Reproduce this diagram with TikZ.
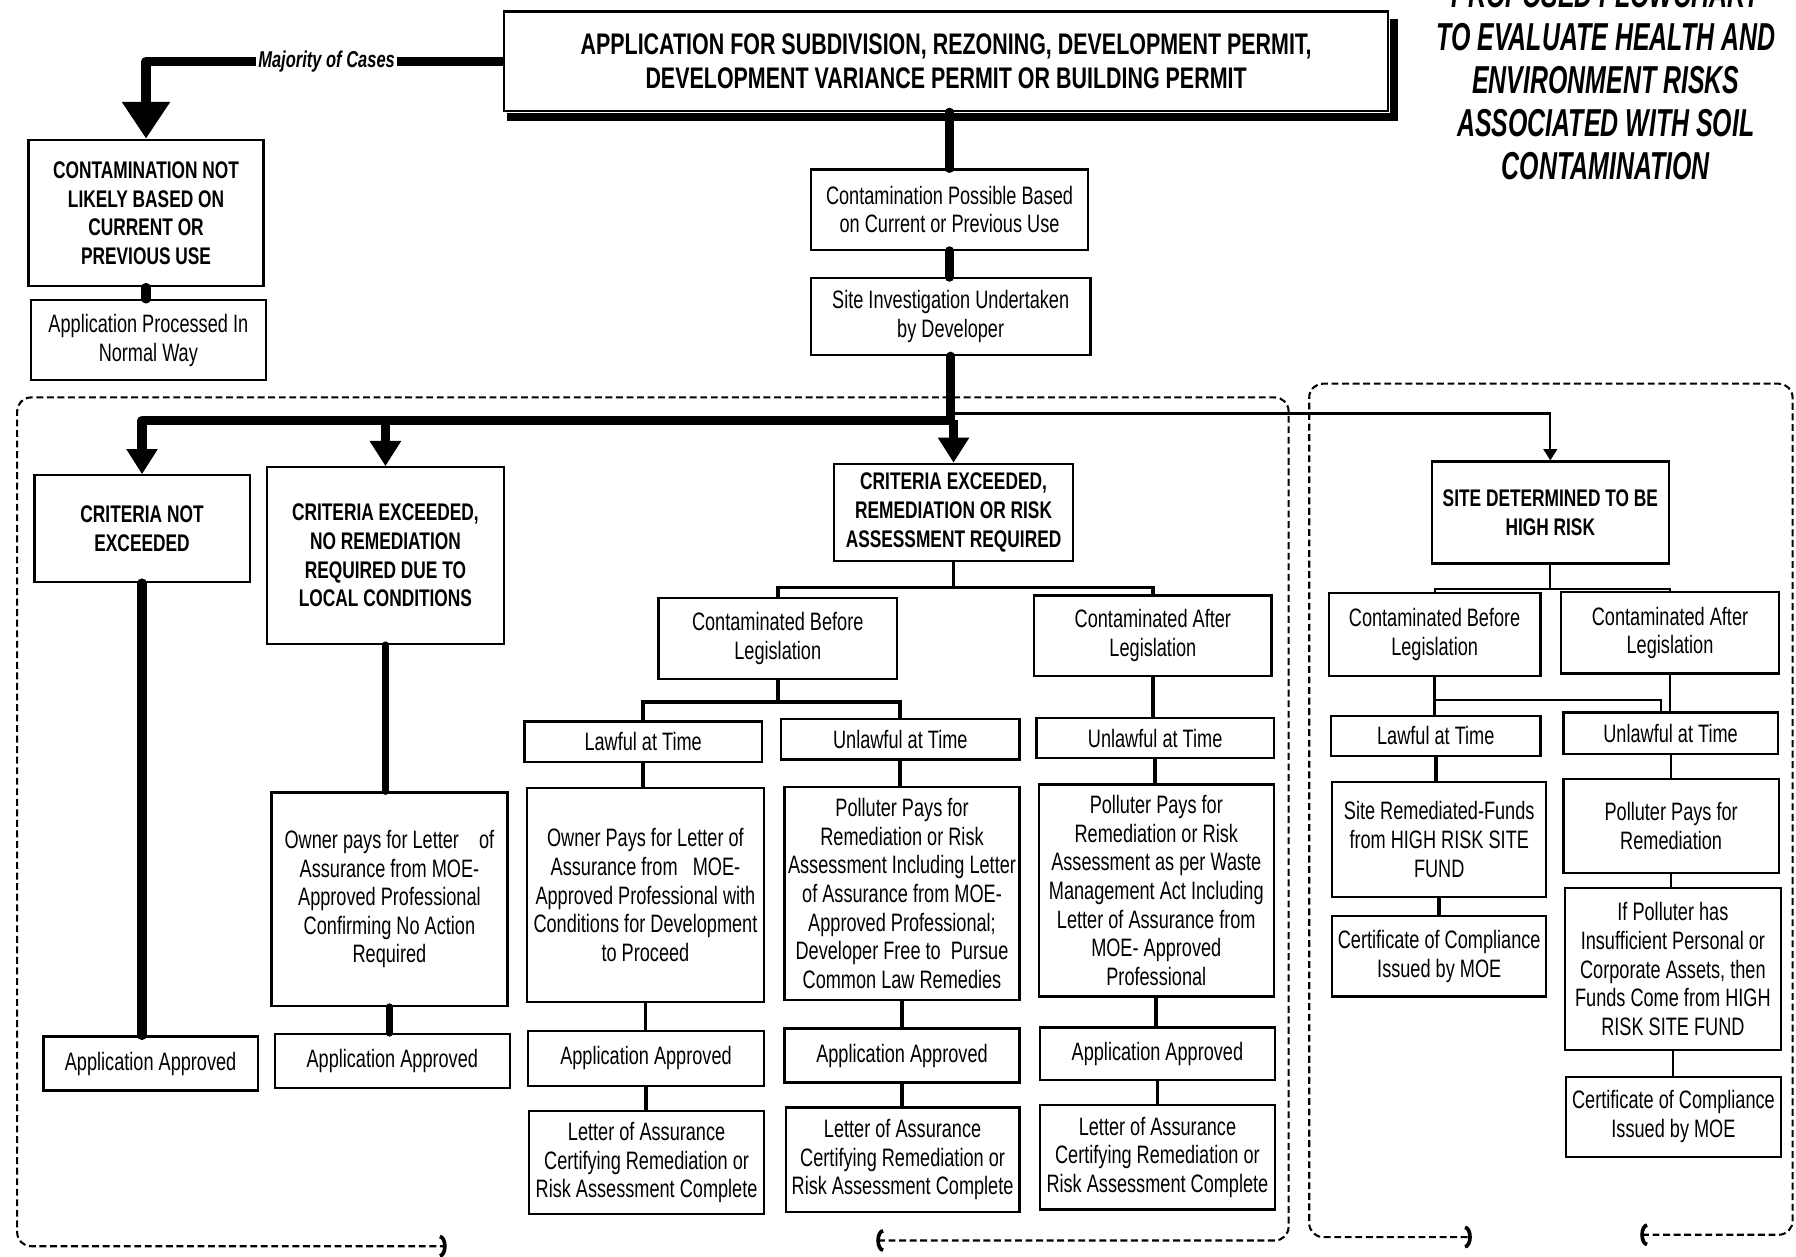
\documentclass[tikz,border=0pt]{standalone}
\usepackage{fontspec}
\setmainfont{Liberation Sans}[FakeStretch=0.72]
\newfontfamily\ttlfont{Liberation Sans}[FakeStretch=0.64]
\usetikzlibrary{arrows.meta,calc}
\tikzset{
  box/.style={draw, line width=1pt, inner sep=0pt, align=center, font=\fontsize{11}{12.5}\selectfont},
  hbox/.style={box, font=\bfseries\fontsize{10.5}{12.5}\selectfont},
  sz/.style 2 args={minimum width=#1pt, minimum height=#2pt},
  heavy/.style={line width=4pt, line cap=round, line join=round},
  heavier/.style={line width=3pt, line cap=round, line join=round},
  heavyarrow/.style={line width=4pt, line join=round, -{Triangle[length=11pt,width=13pt]}},
  bigarrow/.style={line width=4pt, line join=round, -{Triangle[length=16pt,width=20pt]}},
  medium/.style={line width=1.6pt},
  light/.style={line width=0.9pt},
  lbl/.style={fill=white, inner sep=1pt, font=\bfseries\itshape\fontsize{10}{11}\selectfont},
  bracket/.style={line width=0.9pt, dash pattern=on 3pt off 1.6pt, rounded corners=6pt,
    {Arc Barb[length=3pt,width=10pt,line width=1.6pt]}-{Arc Barb[length=3pt,width=10pt,line width=1.6pt]}},
}
\begin{document}
\begin{tikzpicture}[x=0.5pt,y=-0.5pt]
\useasboundingbox (0,0) rectangle (1568,1097);

% title
\node[align=center, inner sep=0pt, font=\ttlfont\bfseries\itshape\fontsize{17}{18.75}\selectfont] (title) at (1402,70)
  {PROPOSED FLOWCHART\\TO EVALUATE HEALTH AND\\ENVIRONMENT RISKS\\ASSOCIATED WITH SOIL\\CONTAMINATION};

% dashed brackets
\draw[bracket] (765,1083) -- (1125,1083) -- (1125,347) -- (15,347) -- (15,1088) -- (390,1088);
\draw[bracket] (1432,1078) -- (1565,1078) -- (1565,335) -- (1143,335) -- (1143,1080) -- (1285,1080);

% top part
\node[box, sz={386}{43.5}, font=\bfseries\fontsize{13}{14.5}\selectfont] (top) at (826,53.5)
  {APPLICATION FOR SUBDIVISION, REZONING, DEVELOPMENT PERMIT,\\DEVELOPMENT VARIANCE PERMIT OR BUILDING PERMIT};
\draw[line width=3.5pt] ($(top.north east)+(4,8)$) -- ($(top.south east)+(4,4)$) -- ($(top.south west)+(4,4)$);
\node[hbox, sz={102.5}{64}] (cnl) at (127.5,186) {CONTAMINATION NOT\\LIKELY BASED ON\\CURRENT OR\\PREVIOUS USE};
\node[box, sz={102.5}{35}] (apn) at (129.5,297) {Application Processed In\\Normal Way};
\node[box, sz={121}{35}] (cp) at (829,183) {Contamination Possible Based\\on Current or Previous Use};
\node[box, sz={122}{33.5}] (si) at (830,276.5) {Site Investigation Undertaken\\by Developer};

% left region
\node[hbox, sz={94}{46.5}] (cne) at (124,461.5) {CRITERIA NOT\\EXCEEDED};
\node[hbox, sz={103.5}{77}] (cnr) at (336.5,485) {CRITERIA EXCEEDED,\\NO REMEDIATION\\REQUIRED DUE TO\\LOCAL CONDITIONS};
\node[hbox, sz={104.5}{42.5}] (cer) at (832.5,447.5) {CRITERIA EXCEEDED,\\REMEDIATION OR RISK\\ASSESSMENT REQUIRED};
\node[box, sz={103}{93}] (opl) at (340,785) {Owner pays for Letter\ \ \ \ of\\Assurance from MOE-\\Approved Professional\\Confirming No Action\\Required};
\node[box, sz={93.5}{23.5}] (aa1) at (131.5,928.5) {Application Approved};
\node[box, sz={102.5}{23.5}] (aa2) at (342.5,926.5) {Application Approved};
\node[box, sz={104}{35.5}] (cbl) at (679,557.5) {Contaminated Before\\Legislation};
\node[box, sz={103.5}{35}] (cal) at (1006.5,555) {Contaminated After\\Legislation};
\node[box, sz={103.5}{17.5}] (law1) at (561.5,647.5) {Lawful at Time};
\node[box, sz={104}{17.5}] (unl1) at (786,645.5) {Unlawful at Time};
\node[box, sz={103.5}{17.5}] (unl2) at (1008.5,644.5) {Unlawful at Time};
\node[box, sz={103.5}{93.5}] (op1) at (563.5,781.5) {Owner Pays for Letter of\\Assurance from\ \ \ MOE-\\Approved Professional with\\Conditions for Development\\to Proceed};
\node[box, sz={102.5}{93}] (pp1) at (787.5,780) {Polluter Pays for\\Remediation or Risk\\Assessment Including Letter\\of Assurance from MOE-\\Approved Professional;\\Developer Free to\ \ Pursue\\Common Law Remedies};
\node[box, sz={102.5}{92.5}] (pp2) at (1009.5,777.5) {Polluter Pays for\\Remediation or Risk\\Assessment as per Waste\\Management Act Including\\Letter of Assurance from\\MOE- Approved\\Professional};
\node[box, sz={103}{24}] (aa3) at (564,924) {Application Approved};
\node[box, sz={102.5}{23.5}] (aa4) at (787.5,921.5) {Application Approved};
\node[box, sz={102.5}{23}] (aa5) at (1010.5,920) {Application Approved};
\node[box, sz={102.5}{45}] (la1) at (564.5,1015) {Letter of Assurance\\Certifying Remediation or\\Risk Assessment Complete};
\node[box, sz={102}{45.5}] (la2) at (788,1012.5) {Letter of Assurance\\Certifying Remediation or\\Risk Assessment Complete};
\node[box, sz={102.5}{45.5}] (la3) at (1010.5,1010.5) {Letter of Assurance\\Certifying Remediation or\\Risk Assessment Complete};

% right region
\node[hbox, sz={103.5}{44.5}] (site) at (1353.5,447.5) {SITE DETERMINED TO BE\\HIGH RISK};
\node[box, sz={92.5}{36}] (cbr) at (1252.5,554) {Contaminated Before\\Legislation};
\node[box, sz={95}{35.5}] (car) at (1458,552.5) {Contaminated After\\Legislation};
\node[box, sz={91.5}{17.5}] (law2) at (1253.5,642.5) {Lawful at Time};
\node[box, sz={93.5}{18}] (unl3) at (1458.5,640) {Unlawful at Time};
\node[box, sz={93.5}{50}] (srf) at (1256.5,733) {Site Remediated-Funds\\from HIGH RISK SITE\\FUND};
\node[box, sz={93.5}{35}] (coc1) at (1256.5,835) {Certificate of Compliance\\Issued by MOE};
\node[box, sz={94}{41}] (ppr) at (1459,721) {Polluter Pays for\\Remediation};
\node[box, sz={94.5}{71}] (ifp) at (1460.5,846) {If Polluter has\\Insufficient Personal or\\Corporate Assets, then\\Funds Come from HIGH\\RISK SITE FUND};
\node[box, sz={94}{35}] (coc2) at (1461,975) {Certificate of Compliance\\Issued by MOE};

% connectors: top
\draw[bigarrow] (top.west) -- node[lbl, pos=0.494] {Majority of Cases} (cnl.north |- top.west) -- (cnl.north);
\draw[heavy] (cnl.south) -- (cnl.south |- apn.north);
\draw[heavy] (cp.north |- top.south) -- (cp.north);
\draw[heavy] (cp.south) -- (cp.south |- si.north);
\path (si.south) ++(0,56) coordinate (br);
\draw[heavy] (si.south) -- (br);
\draw[heavyarrow] (br) -| (cne.north);
\draw[heavyarrow] (cnr.north |- br) -- (cnr.north);
\draw[heavyarrow] (cer.north |- br) -- (cer.north);
\draw[light, -{Triangle[length=5pt,width=6pt]}] ($(br)+(0,-6)$) -| (site.north);

% left connectors
\draw[heavy] (cne.south) -- (cne.south |- aa1.north);
\draw[heavier] (cnr.south) -- (cnr.south |- opl.north);
\draw[heavier] (opl.south) -- (opl.south |- aa2.north);

% center tree
\path (cer.south) ++(0,22) coordinate (j1);
\draw[medium] (cer.south) -- (j1);
\draw[medium] (cbl.north) |- (j1) -| (cal.north);
\path (cbl.south) ++(0,19) coordinate (j2);
\draw[medium] (cbl.south) -- (j2);
\draw[medium] (law1.north) |- (j2) -| (unl1.north);
\draw[medium] (cal.south) -- (cal.south |- unl2.north);
\draw[medium] (law1.south) -- (law1.south |- op1.north);
\draw[medium] (unl1.south) -- (unl1.south |- pp1.north);
\draw[medium] (unl2.south) -- (unl2.south |- pp2.north);
\draw[medium] (op1.south) -- (op1.south |- aa3.north);
\draw[medium] (pp1.south) -- (pp1.south |- aa4.north);
\draw[medium] (pp2.south) -- (pp2.south |- aa5.north);
\draw[medium] (aa3.south) -- (aa3.south |- la1.north);
\draw[medium] (aa4.south) -- (aa4.south |- la2.north);
\draw[medium] (aa5.south) -- (aa5.south |- la3.north);

% right tree
\path (site.south) ++(0,21) coordinate (j3);
\draw[light] (site.south) -- (j3);
\draw[light] (cbr.north) |- (j3) -| (car.north);
\draw[medium] (cbr.south) -- (cbr.south |- law2.north);
\draw[light] (cbr.south) ++(0,20) -| ($(unl3.north)+(-8,0)$);
\draw[light] (car.south) -- (car.south |- unl3.north);
\draw[medium] (law2.south) -- (law2.south |- srf.north);
\draw[medium] (srf.south) -- (srf.south |- coc1.north);
\draw[light] (unl3.south) -- (unl3.south |- ppr.north);
\draw[light] (ppr.south) -- (ppr.south |- ifp.north);
\draw[light] (ifp.south) -- (ifp.south |- coc2.north);
\end{tikzpicture}
\end{document}
